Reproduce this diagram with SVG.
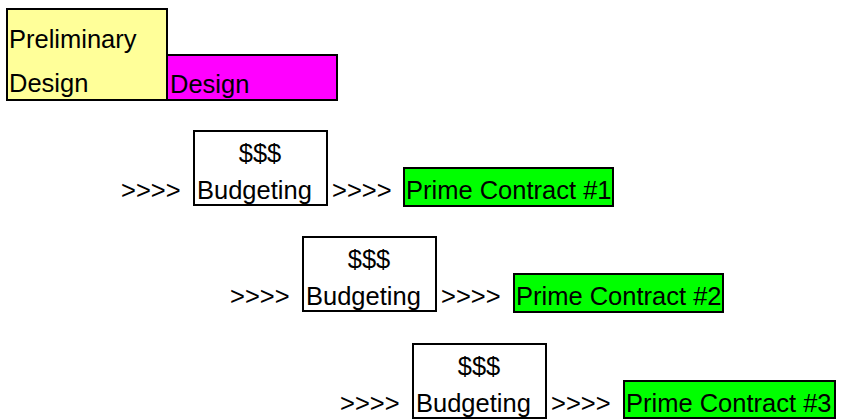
<svg xmlns="http://www.w3.org/2000/svg" width="848" height="420" viewBox="0 0 848 420">
<style>
text{font-family:"Liberation Sans",Arial,sans-serif;font-size:25.5px;fill:#000}
.box{stroke:#000;stroke-width:2}
.bud{fill:#fff}
.green{fill:#00FF00}
.mid{text-anchor:middle}
</style>
<rect width="848" height="420" fill="#fff"/>
<g id="preliminary-design">
<rect class="box" x="7" y="9" width="160" height="91" fill="#FFFF99"/>
<text x="9" y="48">Preliminary</text>
<text x="9" y="92">Design</text>
</g>
<g id="design">
<rect class="box" x="167" y="55" width="170" height="45" fill="#FF00FF"/>
<text x="170" y="93">Design</text>
</g>
<g id="connectors">
<text x="121" y="199">&gt;&gt;&gt;&gt;</text>
<text x="332" y="199">&gt;&gt;&gt;&gt;</text>
<text x="230" y="305">&gt;&gt;&gt;&gt;</text>
<text x="441" y="305">&gt;&gt;&gt;&gt;</text>
<text x="340" y="412">&gt;&gt;&gt;&gt;</text>
<text x="551" y="412">&gt;&gt;&gt;&gt;</text>
</g>
<g id="budgeting-1">
<rect class="box bud" x="194" y="131" width="133" height="74"/>
<text class="mid" x="260" y="162">$$$</text>
<text x="197" y="199">Budgeting</text>
</g>
<g id="prime-contract-1">
<rect class="box green" x="404" y="168" width="209" height="38"/>
<text x="406" y="199">Prime Contract #1</text>
</g>
<g id="budgeting-2">
<rect class="box bud" x="303" y="237" width="133" height="74"/>
<text class="mid" x="369" y="268">$$$</text>
<text x="306" y="305">Budgeting</text>
</g>
<g id="prime-contract-2">
<rect class="box green" x="514" y="274" width="209" height="38"/>
<text x="516" y="305">Prime Contract #2</text>
</g>
<g id="budgeting-3">
<rect class="box bud" x="413" y="344" width="133" height="74"/>
<text class="mid" x="479" y="375">$$$</text>
<text x="416" y="412">Budgeting</text>
</g>
<g id="prime-contract-3">
<rect class="box green" x="624" y="381" width="211" height="37"/>
<text x="626" y="412">Prime Contract #3</text>
</g>
</svg>
